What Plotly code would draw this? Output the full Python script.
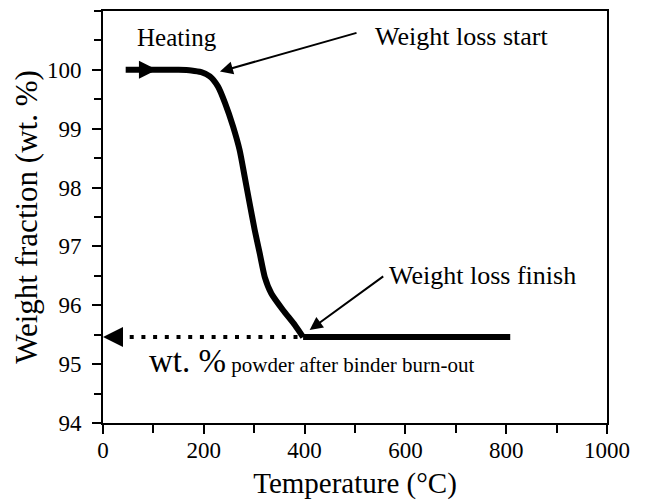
import plotly.graph_objects as go

# TGA curve (temperature in °C, weight fraction in wt. %): heating + weight-loss part
temp = [45, 100, 150, 175, 195, 212, 228, 242, 258, 271, 281, 291, 301, 311, 321, 334, 357, 381, 397]
weight = [100.0, 100.0, 100.0, 99.99, 99.96, 99.89, 99.72, 99.44, 99.04, 98.64, 98.19, 97.73, 97.28, 96.88, 96.48, 96.20, 95.92, 95.66, 95.46]
# plateau after binder burn-out
plateau_temp = [397, 500, 600, 700, 808]
plateau_weight = [95.46, 95.46, 95.46, 95.46, 95.46]

# residual powder level (dotted guide)
residual_x = [53, 390]
residual_y = [95.46, 95.46]

x_ticks = [0, 200, 400, 600, 800, 1000]
y_ticks = [94, 95, 96, 97, 98, 99, 100]

FONT = "Liberation Serif, Times New Roman, serif"

fig = go.Figure()

fig.add_trace(go.Scatter(x=residual_x, y=residual_y, mode="lines",
                         line=dict(color="black", width=4, dash="4px,7.7px"),
                         showlegend=False, hoverinfo="skip"))
fig.add_trace(go.Scatter(x=temp, y=weight, mode="lines",
                         line=dict(color="black", width=6, shape="spline", smoothing=0.6),
                         showlegend=False))
fig.add_trace(go.Scatter(x=plateau_temp, y=plateau_weight, mode="lines",
                         line=dict(color="black", width=6),
                         showlegend=False))
# arrowheads on the heating curve and on the residual guide
fig.add_trace(go.Scatter(x=[107], y=[100.0], mode="markers",
                         marker=dict(symbol="arrow-right", size=18, color="black"),
                         showlegend=False, hoverinfo="skip"))
fig.add_trace(go.Scatter(x=[0], y=[95.46], mode="markers",
                         marker=dict(symbol="arrow-left", size=20, color="black"),
                         showlegend=False, hoverinfo="skip", cliponaxis=False))

axis_common = dict(
    showline=True, linecolor="black", linewidth=2, mirror=True,
    ticks="outside", tickcolor="black", tickwidth=2, ticklen=9,
    showgrid=False, zeroline=False,
    tickfont=dict(family=FONT, size=23, color="black"),
)

fig.update_xaxes(range=[0, 1000], tickvals=x_ticks,
                 minor=dict(dtick=100, ticks="outside", ticklen=8, tickcolor="black", tickwidth=2),
                 title=dict(text="Temperature (°C)", font=dict(family=FONT, size=29, color="black"), standoff=15),
                 ticklabelstandoff=-4,
                 **axis_common)
fig.update_yaxes(range=[94, 101], tickvals=y_ticks,
                 minor=dict(dtick=0.5, ticks="outside", ticklen=7, tickcolor="black", tickwidth=2),
                 title=dict(text="Weight fraction (wt. %)", font=dict(family=FONT, size=31, color="black"), standoff=0),
                 ticklabelstandoff=6,
                 **axis_common)

fig.add_annotation(x=63, y=100.55, text="Heating", showarrow=False, xanchor="left", yanchor="middle",
                   font=dict(family=FONT, size=25, color="black"))
fig.add_annotation(x=535, y=100.57, text="Weight loss start", showarrow=False, xanchor="left", yanchor="middle",
                   font=dict(family=FONT, size=26, color="black"))
fig.add_annotation(x=564, y=96.5, text="Weight loss finish", showarrow=False, xanchor="left", yanchor="middle",
                   font=dict(family=FONT, size=26, color="black"))
fig.add_annotation(x=87, y=95.06, text="wt. %<span style='font-size:21px'> powder after binder burn-out</span>",
                   showarrow=False, xanchor="left", yanchor="middle",
                   font=dict(family=FONT, size=33, color="black"))

# pointer arrows
fig.add_annotation(x=232, y=99.97, ax=506, ay=100.635, xref="x", yref="y", axref="x", ayref="y",
                   text="", showarrow=True, arrowhead=2, arrowsize=1.3, arrowwidth=2, arrowcolor="black")
fig.add_annotation(x=410, y=95.58, ax=559, ay=96.51, xref="x", yref="y", axref="x", ayref="y",
                   text="", showarrow=True, arrowhead=2, arrowsize=1.3, arrowwidth=2, arrowcolor="black")

fig.update_layout(
    width=648, height=500,
    margin=dict(l=103, r=41, t=11, b=77, autoexpand=False),
    paper_bgcolor="white", plot_bgcolor="white",
    font=dict(family=FONT, color="black"),
)

fig.write_html("out.html")
